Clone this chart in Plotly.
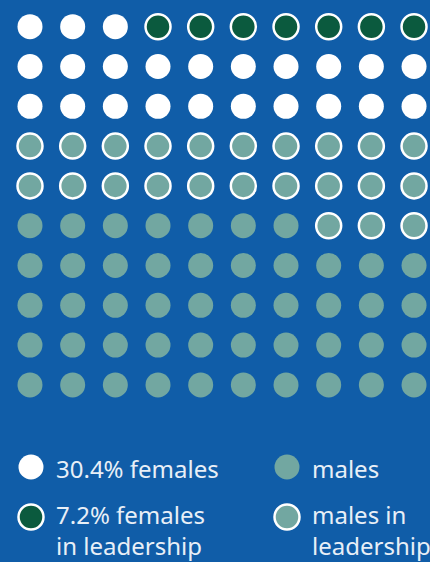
import plotly.graph_objects as go

# Grid layout, row by row from top: W = females, G = females in leadership,
# O = males in leadership, T = males
grid_rows = [
    "WWWGGGGGGG",
    "WWWWWWWWWW",
    "WWWWWWWWWW",
    "OOOOOOOOOO",
    "OOOOOOOOOO",
    "TTTTTTTOOO",
    "TTTTTTTTTT",
    "TTTTTTTTTT",
    "TTTTTTTTTT",
    "TTTTTTTTTT",
]
categories = ["W", "G", "T", "O"]
labels = {
    "W": ["30.4% females"],
    "G": ["7.2% females", "in leadership"],
    "T": ["males"],
    "O": ["males in", "leadership"],
}

BG = "#105DA8"
fills = {"W": "#FFFFFF", "G": "#0B5A3E", "T": "#72A7A1", "O": "#72A7A1"}
outlined = {"W": False, "G": True, "T": False, "O": True}

fig = go.Figure()
for c in categories:
    xs, ys = [], []
    for r, row in enumerate(grid_rows):
        for col, ch in enumerate(row):
            if ch == c:
                xs.append(col)
                ys.append(r)
    fig.add_trace(go.Scatter(
        x=xs, y=ys, mode="markers", hoverinfo="skip", showlegend=False,
        marker=dict(size=25, color=fills[c],
                    line=dict(width=2.5 if outlined[c] else 0, color="#FFFFFF")),
    ))

# Legend (drawn manually)
W, H = 430, 562
legend_pos = {"W": (31, 467), "T": (287, 467), "G": (31, 517), "O": (287, 517)}
text_y = {"W": 467, "T": 467, "G": 513.5, "O": 513.5}
for c in categories:
    px, py = legend_pos[c]
    fig.add_shape(type="circle", xref="paper", yref="paper",
                  x0=(px - 12.5) / W, x1=(px + 12.5) / W,
                  y0=1 - (py + 12.5) / H, y1=1 - (py - 12.5) / H,
                  fillcolor=fills[c],
                  line=dict(color="#FFFFFF", width=2.5) if outlined[c] else dict(width=0))
    for i, line in enumerate(labels[c]):
        fig.add_annotation(xref="paper", yref="paper",
                           x=(px + 23) / W, y=1 - (text_y[c] + 1 + i * 31) / H,
                           xanchor="left", yanchor="middle", showarrow=False,
                           text=line,
                           font=dict(family="Noto Sans", size=24, color="#E8EFF7"))

fig.update_layout(
    width=W, height=H, margin=dict(l=0, r=0, t=0, b=0),
    paper_bgcolor=BG, plot_bgcolor=BG,
    xaxis=dict(range=[-30 / 42.67, 400 / 42.67], visible=False, fixedrange=True),
    yaxis=dict(range=[(562 - 26.7) / 39.8, -26.7 / 39.8], visible=False, fixedrange=True),
)
fig.write_html(
    "out.html",
    config={"displayModeBar": False},
    post_script="document.body.style.margin='0';document.body.style.background='%s';" % BG,
)
